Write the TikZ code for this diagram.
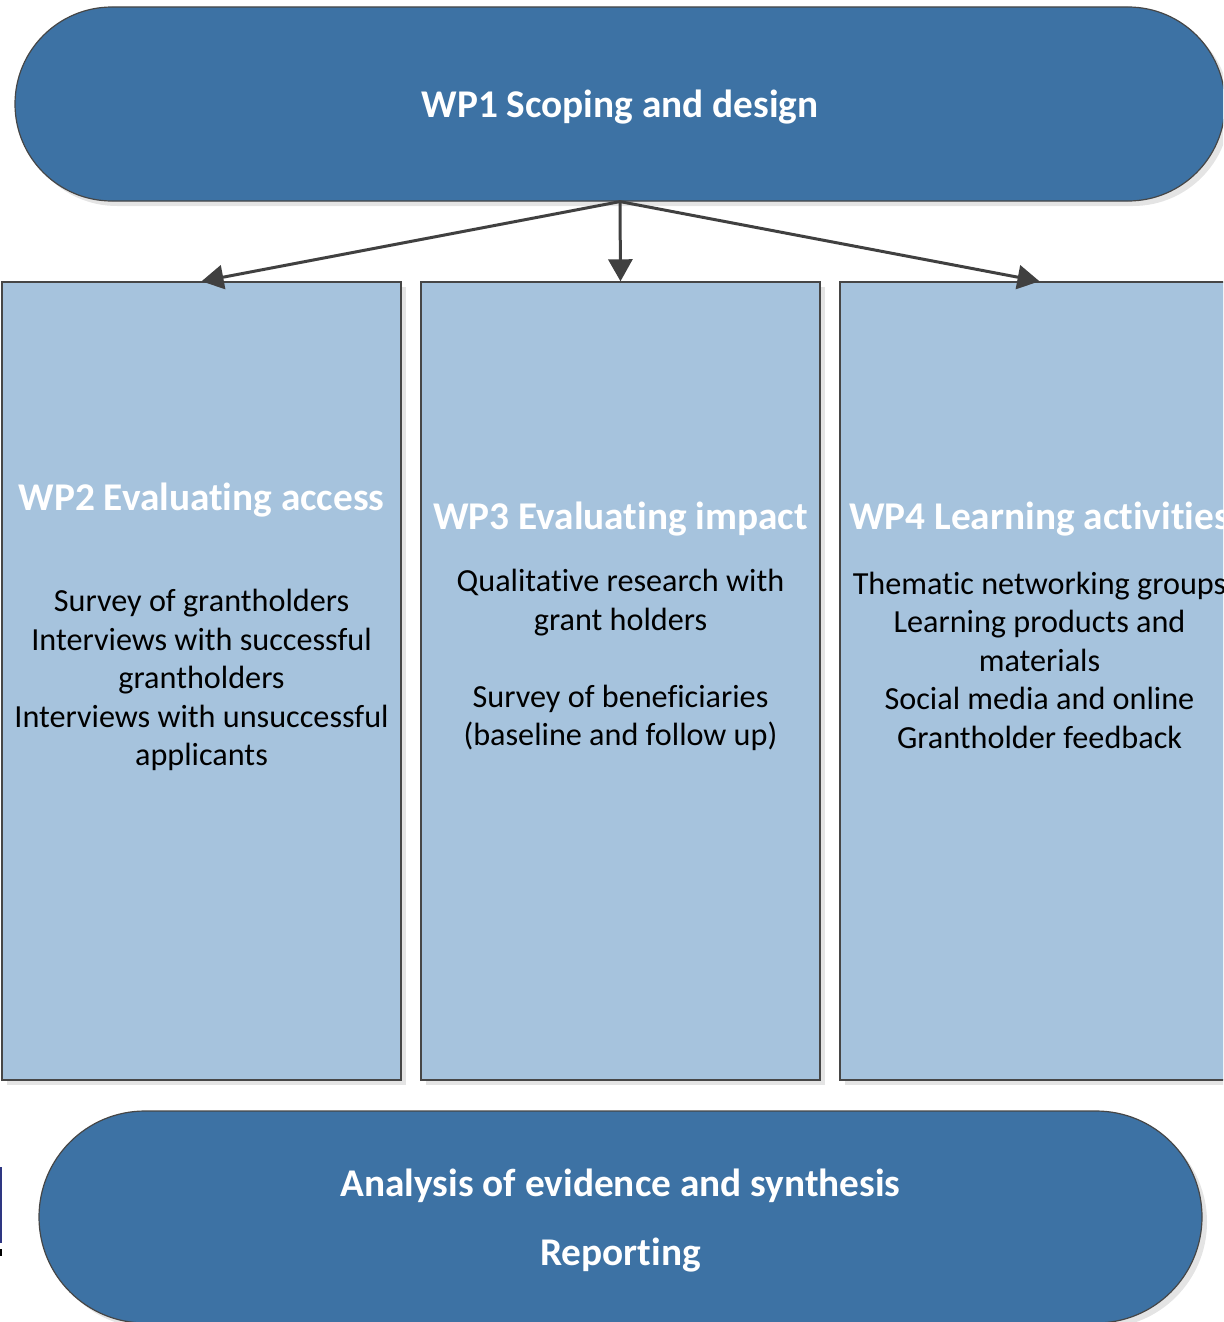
\documentclass[tikz,border=0pt]{standalone}
\usepackage{fontspec}
\setmainfont{Carlito}[Ligatures=NoCommon]
\usetikzlibrary{shapes.misc,arrows.meta,shadows}

\definecolor{darkblue}{RGB}{61,114,164}
\definecolor{lightblue}{RGB}{166,195,221}
\definecolor{edgegray}{RGB}{70,70,70}
\definecolor{arrowgray}{RGB}{64,64,64}
\definecolor{shadowgray}{RGB}{228,228,228}
\definecolor{markblue}{RGB}{46,54,130}

\tikzset{
  pill/.style={rounded rectangle, draw=edgegray, line width=1.2pt, fill=darkblue,
    inner sep=0pt, text=white,
    drop shadow={shadow xshift=5pt, shadow yshift=-5pt, fill=shadowgray, opacity=1}},
  wpbox/.style={rectangle, draw=edgegray, line width=1.4pt, fill=lightblue,
    inner sep=0pt,
    drop shadow={shadow xshift=5pt, shadow yshift=-5pt, fill=shadowgray, opacity=1}},
  wptitle/.style={text=white, font=\fontsize{39.3}{47}\selectfont\bfseries,
    inner sep=0pt},
  wpbody/.style={text=black, font=\fontsize{32.2}{38.5}\selectfont, align=center,
    inner sep=0pt},
  flow/.style={draw=arrowgray, line width=3pt,
    -{Triangle[length=22pt,width=24pt]}},
}

\begin{document}
\begin{tikzpicture}[x=1pt,y=-1pt]
\useasboundingbox (0,0) rectangle (1223,1322);
\clip (0,0) rectangle (1223,1322);

% top and bottom phases
\node[pill, minimum width=1210pt, minimum height=194pt,
      font=\fontsize{39.3}{47}\selectfont\bfseries] (wp1) at (620,104)
      {\raisebox{-3pt}[\height][\depth]{WP1 Scoping and design}};
\node[pill, minimum width=1163pt, minimum height=212pt,
      font=\fontsize{39.3}{69}\selectfont\bfseries] (synth) at (620.5,1217)
      {\raisebox{-3pt}{\begin{tabular}{@{}c@{}}Analysis of evidence and synthesis\\Reporting\end{tabular}}};

% work package columns
\node[wpbox, minimum width=399pt, minimum height=798pt] (wp2) at (201.5,681) {};
\node[wpbox, minimum width=399pt, minimum height=798pt] (wp3) at (620.5,681) {};
\node[wpbox, minimum width=399pt, minimum height=798pt] (wp4) at (1039.5,681) {};

\node[wptitle] (wp2t) at (201.5,500) {WP2 Evaluating access};
\node[wptitle] (wp3t) at (620.5,519) {WP3 Evaluating impact};
\node[wptitle] (wp4t) at (1039.5,519) {WP4 Learning activities};

\node[wpbody] (wp2b) at (201.5,680) {Survey of grantholders\\Interviews with successful\\grantholders\\Interviews with unsuccessful\\applicants};
\node[wpbody] (wp3b) at (620.5,660) {Qualitative research with\\grant holders\\[38.5pt]Survey of beneficiaries\\(baseline and follow up)};
\node[wpbody] (wp4b) at (1039.5,660) {Thematic networking groups\\Learning products and\\materials\\Social media and online\\Grantholder feedback};

% connectors from scoping to the work packages
\draw[flow] (wp1.south) -- (wp2.north);
\draw[flow] (wp1.south) -- (wp3.north);
\draw[flow] (wp1.south) -- (wp4.north);

% small mark at the left border
\fill[markblue] (0,1167) rectangle (2,1243);
\fill[black] (0,1249) rectangle (1.5,1256);
\end{tikzpicture}
\end{document}
